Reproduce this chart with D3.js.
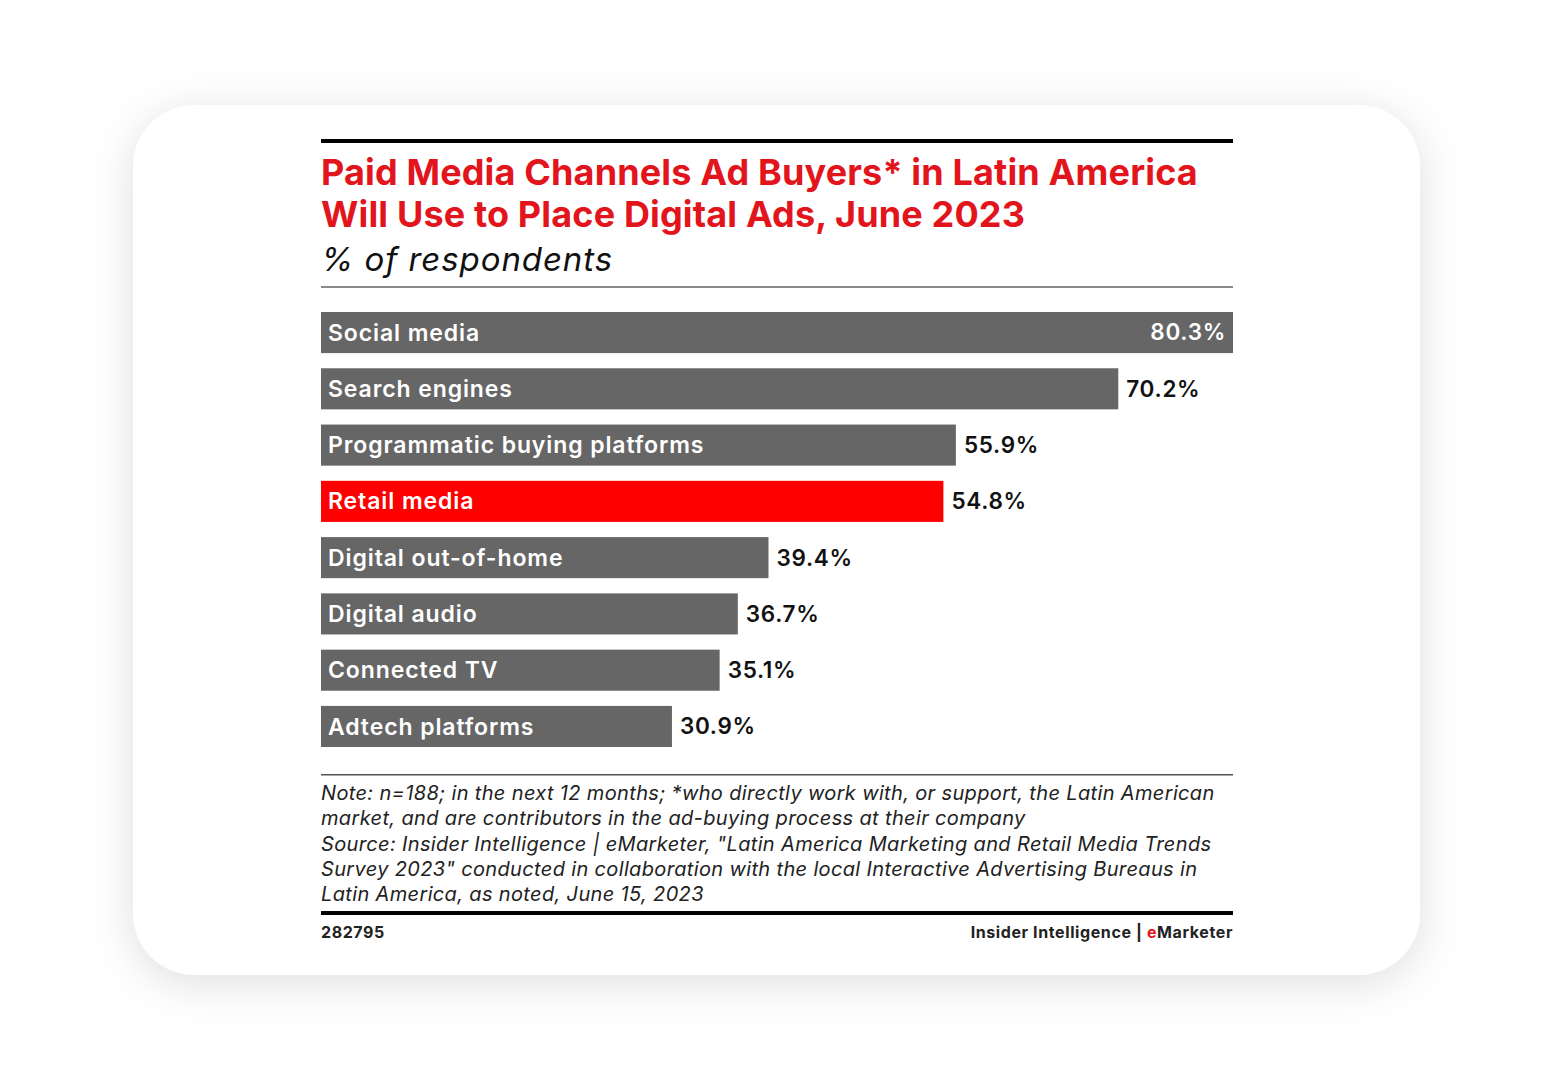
<!DOCTYPE html>
<html>
<head>
<meta charset="utf-8">
<script src="https://cdn.jsdelivr.net/npm/d3@7"></script>
<style>
  html, body { margin: 0; padding: 0; background: #ffffff; }
  body { width: 1554px; height: 1080px; overflow: hidden; }
</style>
</head>
<body>
<div id="chart"></div>
<script>
const categories = ["Social media", "Search engines", "Programmatic buying platforms", "Retail media",
  "Digital out-of-home", "Digital audio", "Connected TV", "Adtech platforms"];
const values = [80.3, 70.2, 55.9, 54.8, 39.4, 36.7, 35.1, 30.9];
const highlight = ["Retail media"];
const titleLines = ["Paid Media Channels Ad Buyers* in Latin America", "Will Use to Place Digital Ads, June 2023"];
const subtitle = "% of respondents";
const noteLines = [
  "Note: n=188; in the next 12 months; *who directly work with, or support, the Latin American",
  "market, and are contributors in the ad-buying process at their company",
  "Source: Insider Intelligence | eMarketer, \"Latin America Marketing and Retail Media Trends",
  "Survey 2023\" conducted in collaboration with the local Interactive Advertising Bureaus in",
  "Latin America, as noted, June 15, 2023"
];
const chartId = "282795";

const width = 1554, height = 1080;
const left = 321, right = 1233;
const font = "Inter, 'Open Sans', sans-serif";

const svg = d3.select("#chart").append("svg")
  .attr("width", width)
  .attr("height", height);

// card shadow
const defs = svg.append("defs");
const f = defs.append("filter").attr("id", "shadow")
  .attr("x", "-20%").attr("y", "-20%").attr("width", "140%").attr("height", "140%");
f.append("feDropShadow").attr("dx", 0).attr("dy", 8).attr("stdDeviation", 22)
  .attr("flood-color", "#000").attr("flood-opacity", 0.13);

svg.append("rect")
  .attr("x", 133).attr("y", 105)
  .attr("width", 1287).attr("height", 870)
  .attr("rx", 62).attr("ry", 62)
  .attr("fill", "#fff")
  .attr("filter", "url(#shadow)");

// top rule
svg.append("rect").attr("x", left).attr("y", 139).attr("width", right - left).attr("height", 4).attr("fill", "#000");

svg.append("g").selectAll("text")
  .data(titleLines)
  .join("text")
  .attr("x", left)
  .attr("y", (d, i) => 185 + i * 42)
  .attr("font-family", font)
  .attr("font-weight", 700)
  .attr("font-size", 36)
  .attr("fill", "#e2141c")
  .attr("letter-spacing", 0.15)
  .text(d => d);

svg.append("text")
  .attr("x", left)
  .attr("y", 271)
  .attr("font-family", font)
  .attr("font-style", "italic")
  .attr("font-size", 33)
  .attr("fill", "#111")
  .attr("letter-spacing", 0.9)
  .text(subtitle);

svg.append("rect").attr("x", left).attr("y", 286).attr("width", right - left).attr("height", 2).attr("fill", "#8a8a8a");

// bars
const x = d3.scaleLinear()
  .domain([0, d3.max(values)])
  .range([left, right]);

const y = d3.scaleBand()
  .domain(categories)
  .range([312, 747])
  .paddingInner(0.27)
  .paddingOuter(0);

const rows = svg.append("g").selectAll("g")
  .data(categories.map((c, i) => ({ name: c, value: values[i] })))
  .join("g");

rows.append("rect")
  .attr("x", x(0))
  .attr("y", d => y(d.name))
  .attr("width", d => x(d.value) - x(0))
  .attr("height", y.bandwidth())
  .attr("fill", d => highlight.includes(d.name) ? "#ff0000" : "#666666");

rows.append("text")
  .attr("x", x(0) + 7)
  .attr("y", d => y(d.name) + y.bandwidth() / 2)
  .attr("dy", "0.35em")
  .attr("font-family", font)
  .attr("font-weight", 600)
  .attr("font-size", 23)
  .attr("letter-spacing", 0.9)
  .attr("fill", "#fff")
  .text(d => d.name);

const maxV = d3.max(values);
rows.append("text")
  .attr("x", d => d.value === maxV ? x(d.value) - 7 : x(d.value) + 8)
  .attr("y", d => y(d.name) + y.bandwidth() / 2)
  .attr("dy", "0.35em")
  .attr("text-anchor", d => d.value === maxV ? "end" : "start")
  .attr("font-family", font)
  .attr("font-weight", 600)
  .attr("font-size", 22.5)
  .attr("letter-spacing", 0.7)
  .attr("fill", d => d.value === maxV ? "#fff" : "#111")
  .text(d => d.value.toFixed(1) + "%");

// note
svg.append("rect").attr("x", left).attr("y", 774).attr("width", right - left).attr("height", 1.5).attr("fill", "#555");

svg.append("g").selectAll("text")
  .data(noteLines)
  .join("text")
  .attr("x", left)
  .attr("y", (d, i) => 800 + i * 25.3)
  .attr("font-family", font)
  .attr("font-style", "italic")
  .attr("font-size", 20)
  .attr("fill", "#222")
  .attr("letter-spacing", 0.35)
  .text(d => d);

svg.append("rect").attr("x", left).attr("y", 911).attr("width", right - left).attr("height", 4).attr("fill", "#000");

svg.append("text")
  .attr("x", left)
  .attr("y", 938)
  .attr("font-family", font)
  .attr("font-weight", 700)
  .attr("font-size", 16)
  .attr("letter-spacing", 0.6)
  .attr("fill", "#222")
  .text(chartId);

const brand = svg.append("text")
  .attr("x", right)
  .attr("y", 938)
  .attr("text-anchor", "end")
  .attr("font-family", font)
  .attr("font-weight", 700)
  .attr("font-size", 16)
  .attr("letter-spacing", 0.6)
  .attr("fill", "#222");
brand.append("tspan").text("Insider Intelligence | ");
brand.append("tspan").attr("fill", "#e2141c").text("e");
brand.append("tspan").text("Marketer");
</script>
</body>
</html>
